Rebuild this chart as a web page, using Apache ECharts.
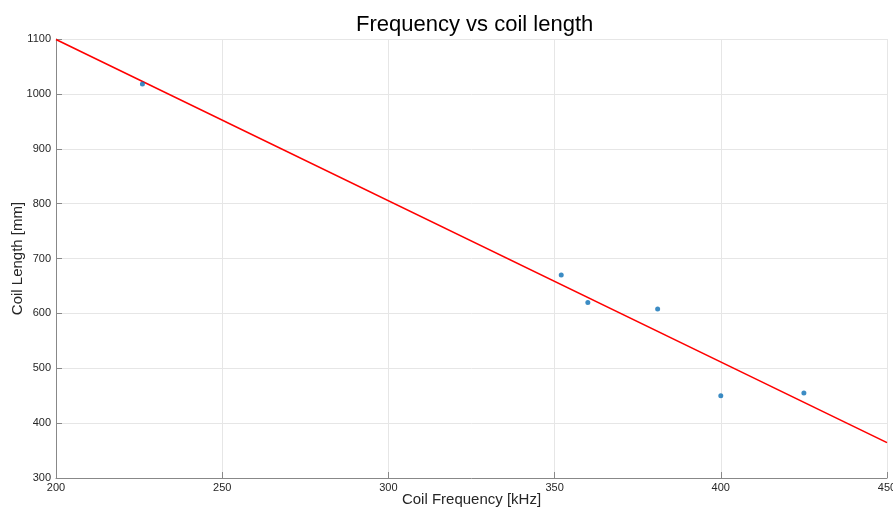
<!DOCTYPE html>
<html>
<head>
<meta charset="utf-8">
<script src="https://cdn.jsdelivr.net/npm/echarts@6/dist/echarts.min.js"></script>
<style>
  html, body { margin: 0; padding: 0; background: #fff; }
  #chart { width: 893px; height: 512px; }
</style>
</head>
<body>
<div id="chart"></div>
<script>
// Measured coil frequency (kHz) and coil length (mm)
const freqKHz = [226, 352, 360, 381, 400, 425];
const lengthMm = [1018, 670, 620, 608, 450, 455];

// Least-squares fit line end points
const fitFreq = [200, 450];
const fitLength = [1099.2, 364.5];

const xTicks = [200, 250, 300, 350, 400, 450];
const yTicks = [300, 400, 500, 600, 700, 800, 900, 1000, 1100];

const FONT = '"Liberation Sans", Arial, Helvetica, sans-serif';
const textColor = '#262626';

const chart = echarts.init(document.getElementById('chart'), null, { renderer: 'canvas' });

const measured = freqKHz.map((f, i) => [f, lengthMm[i]]);
const fit = fitFreq.map((f, i) => [f, fitLength[i]]);

chart.setOption({
  animation: false,
  backgroundColor: '#ffffff',
  title: {
    text: 'Frequency vs coil length',
    left: 351,
    top: 9,
    textStyle: { fontFamily: FONT, fontSize: 22, fontWeight: 'normal', color: '#000' }
  },
  grid: {
    left: 56, right: 6, top: 39, bottom: 34,
    containLabel: false,
    outerBoundsMode: 'none'
  },
  xAxis: {
    type: 'value',
    min: xTicks[0],
    max: xTicks[xTicks.length - 1],
    interval: 50,
    name: 'Coil Frequency [kHz]',
    nameLocation: 'middle',
    nameMoveOverlap: false,
    nameGap: 14,
    nameTextStyle: { fontFamily: FONT, fontSize: 15, color: textColor },
    axisLine: { show: true, onZero: false, lineStyle: { color: '#888', width: 1 } },
    axisTick: { show: true, inside: true, length: 6, lineStyle: { color: '#888' } },
    axisLabel: { fontFamily: FONT, fontSize: 11, color: textColor, margin: 4, formatter: v => String(v) },
    splitLine: { show: true, lineStyle: { color: '#e6e6e6', width: 1 } }
  },
  yAxis: {
    type: 'value',
    min: yTicks[0],
    max: yTicks[yTicks.length - 1],
    interval: 100,
    name: 'Coil Length [mm]',
    nameLocation: 'middle',
    nameMoveOverlap: false,
    nameGap: 31,
    nameTextStyle: { fontFamily: FONT, fontSize: 15, color: textColor },
    axisLine: { show: true, onZero: false, lineStyle: { color: '#888', width: 1 } },
    axisTick: { show: true, inside: true, length: 6, lineStyle: { color: '#888' } },
    axisLabel: { fontFamily: FONT, fontSize: 11, color: textColor, margin: 5, formatter: v => String(v) },
    splitLine: { show: true, lineStyle: { color: '#e6e6e6', width: 1 } }
  },
  series: [
    {
      name: 'fit',
      type: 'line',
      data: fit,
      showSymbol: false,
      lineStyle: { color: '#ff0000', width: 1.6 },
      z: 2
    },
    {
      name: 'measured',
      type: 'scatter',
      data: measured,
      symbol: 'circle',
      symbolSize: 5,
      itemStyle: { color: '#0b6fb5' },
      z: 3
    }
  ]
});
</script>
</body>
</html>
